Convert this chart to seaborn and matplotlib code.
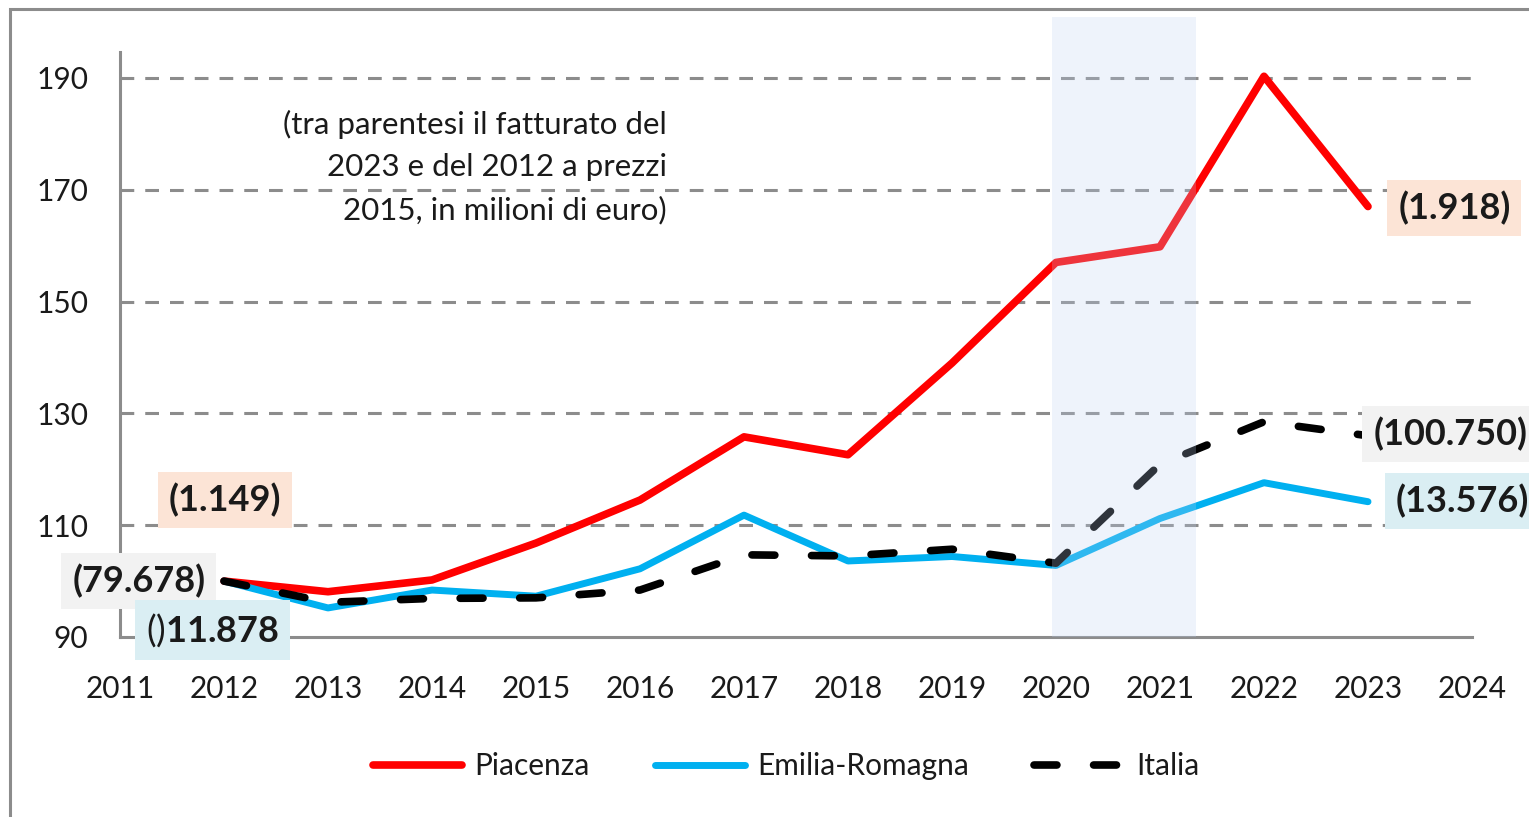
import numpy as np
import pandas as pd
import matplotlib
matplotlib.use("Agg")
import matplotlib.pyplot as plt
from matplotlib.patches import Rectangle
import seaborn as sns

# dati (indice 2012 = 100)
anni = list(range(2012, 2024))
piacenza = [100, 98.1, 100.2, 106.8, 114.5, 125.8, 122.6, 139.0, 157.0, 159.8, 190.3, 167.0]
emilia = [100, 95.2, 98.4, 97.3, 102.2, 111.8, 103.6, 104.4, 102.8, 111.2, 117.6, 114.2]
italia = [100, 96.2, 96.9, 97.0, 98.4, 104.7, 104.5, 105.7, 103.2, 120.9, 128.5, 126.0]
serie = ["Piacenza", "Emilia-Romagna", "Italia"]
colori = {"Piacenza": "#ff0000", "Emilia-Romagna": "#00b0f0", "Italia": "#000000"}

# etichette: fatturato 2012 (sinistra) e 2023 (destra)
etich_2012 = ["(1.149)", r"()$\mathbf{11.878}$", "(79.678)"]
etich_2023 = ["(1.918)", "(13.576)", "(100.750)"]
sfondi = ["#fce4d6", "#daeef3", "#f2f2f2"]

yticks = [90, 110, 130, 150, 170, 190]
xticks = list(range(2011, 2025))

df = pd.DataFrame({"anno": anni * 3,
                   "valore": piacenza + emilia + italia,
                   "area": sum([[s] * len(anni) for s in serie], [])})

sns.set_style("white")
plt.rcParams["font.family"] = ["Lato", "DejaVu Sans"]
plt.rcParams["mathtext.fontset"] = "custom"
plt.rcParams["mathtext.rm"] = "Lato"
plt.rcParams["mathtext.bf"] = "Lato:bold"

fig = plt.figure(figsize=(15.29, 8.17), dpi=100)
ax = fig.add_axes([120 / 1529, 1 - 637 / 817, (1472 - 120) / 1529, (637 - 17) / 817])

grigio = "#8c8c8c"
for y in yticks[1:]:
    ax.axhline(y, color=grigio, lw=2.2, ls=(0, (4.5, 3.6)), zorder=1)

for s in serie:
    sub = df[df["area"] == s]
    sns.lineplot(data=sub, x="anno", y="valore", color=colori[s],
                 linewidth=5.0 if s == "Emilia-Romagna" else 5.5,
                 label=s, ax=ax, zorder=3)

linee = ax.get_lines()[-3:]
for ln in linee:
    ln.set_solid_capstyle("round")
    ln.set_dash_capstyle("round")
linee[2].set_dashes((3.0, 4.8))

# periodo evidenziato
ax.axvspan(2019.96, 2021.35, color="#bdd2f3", alpha=0.25, lw=0, zorder=4)

ax.set_xlim(2011, 2024)
ax.set_ylim(90, 200.9)
ax.set_xticks(xticks)
ax.set_yticks(yticks)
ax.set_xlabel("")
ax.set_ylabel("")
for lato in ["top", "right"]:
    ax.spines[lato].set_visible(False)
for lato in ["left", "bottom"]:
    ax.spines[lato].set_color(grigio)
    ax.spines[lato].set_linewidth(2.2)
    ax.spines[lato].set_zorder(2)
ax.spines["left"].set_bounds(90, 194.7)
ax.tick_params(axis="y", direction="inout", length=14, width=2, color=grigio,
               pad=16, labelsize=21.5, labelcolor="#1a1a1a")
ax.tick_params(axis="x", direction="out", length=6, width=2, color=grigio,
               pad=21, labelsize=21.5, labelcolor="#1a1a1a")

ax.text(2016.26, 174.0, "(tra parentesi il fatturato del\n2023 e del 2012 a prezzi\n2015, in milioni di euro)",
        ha="right", va="center", multialignment="right", fontsize=22.5, linespacing=1.62,
        color="#1a1a1a", zorder=5)

kw = dict(fontsize=26, fontweight="bold", va="center", zorder=6, color="#1a1a1a")
ax.text(2012.01, 114.5, etich_2012[0], ha="center",
        bbox=dict(boxstyle="square,pad=0.3", fc=sfondi[0], ec="none"), **kw)
ax.text(2011.18, 100.0, etich_2012[2], ha="center",
        bbox=dict(boxstyle="square,pad=0.3", fc=sfondi[2], ec="none"), **kw)
# "()" normale + numero in grassetto nello stesso riquadro
ax.text(2011.89, 91.25, etich_2012[1], ha="center", va="center", fontsize=26,
        color="#1a1a1a", zorder=6,
        bbox=dict(boxstyle="square,pad=0.3", fc=sfondi[1], ec="none"))

ax.text(2023.83, 166.7, etich_2023[0], ha="center",
        bbox=dict(boxstyle="square,pad=0.3", fc=sfondi[0], ec="none"), **kw)
ax.text(2023.27, 114.3, etich_2023[1], ha="left",
        bbox=dict(boxstyle="square,pad=0.3", fc=sfondi[1], ec="none"), **kw)
ax.text(2023.05, 126.3, etich_2023[2], ha="left",
        bbox=dict(boxstyle="square,pad=0.3", fc=sfondi[2], ec="none"), **kw)

if ax.get_legend() is not None:
    ax.get_legend().remove()
fig.legend(handles=linee, labels=serie, loc="center", bbox_to_anchor=(0.514, 0.062),
           ncol=3, frameon=False, fontsize=21.5, handlelength=3.0, handletextpad=0.4,
           columnspacing=2.2, labelcolor="#1a1a1a")

# cornice del grafico
fig.add_artist(Rectangle((10 / 1529, -0.5), 2, 0.5 + 1 - 9 / 817, transform=fig.transFigure,
                         fc="none", ec=grigio, lw=2.2))

fig.savefig("out.png", dpi=100)
